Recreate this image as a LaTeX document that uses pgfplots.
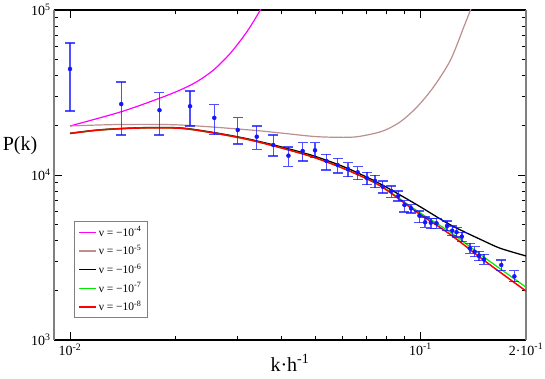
\documentclass[border=0pt]{standalone}
\usepackage{pgfplots}
\pgfplotsset{compat=1.18}
\usepackage{pgfplotstable}
\usepackage{fontspec}
\setmainfont{Liberation Serif}

\definecolor{rosybrown}{RGB}{188,143,143}
\definecolor{grmag}{RGB}{255,0,255}
\definecolor{grgreen}{RGB}{0,235,0}
\definecolor{grblue}{RGB}{20,20,255}

% measured spectrum: k, P, upper error, lower error
\pgfplotstableread{
k       P      ep     em
0.0100  43900  19200  19500
0.0140  26900  9700   9400
0.0180  24700  6800   7200
0.0220  26100  6200   6300
0.0258  22200  4500   4650
0.0301  18750  3500   3350
0.0341  17070  2730   2750
0.0380  15200  2270   2160
0.0420  13090  1690   1800
0.0461  13980  1720   1820
0.0500  14120  1580   1320
0.0539  12160  1190   1430
0.0580  11500  1120   1220
0.0621  10870  1010   1100
0.0662  10380  850    1010
0.0703  9590   790    850
0.0742  9200   750    820
0.0780  8490   710    710
0.0825  8000   580    670
0.0864  7460   540    510
0.0900  6580   410    610
0.0940  6280   320    380
0.0993  5670   380    530
0.1031  5170   380    350
0.1070  5140   330    410
0.1111  5100   350    350
0.1190  4910   340    310
0.1232  4600   300    300
0.1267  4500   300    300
0.1312  4230   270    280
0.1383  3590   260    240
0.1427  3430   250    230
0.1468  3230   220    210
0.1517  3080   220    210
0.1700  2850   200    220
0.1853  2430   200    170
}\measured

\begin{document}
\begin{tikzpicture}
\begin{axis}[
    width=472pt, height=330pt, scale only axis,
    xmode=log, ymode=log,
    xmin=0.009, xmax=0.2, ymin=1000, ymax=100000,
    xtick={0.01,0.1,0.2},
    xticklabels={10\textsuperscript{-2},10\textsuperscript{-1},2·10\textsuperscript{-1}},
    minor xtick={0.02,0.03,0.04,0.05,0.06,0.07,0.08,0.09},
    ytick={1000,10000,100000},
    yticklabels={10\textsuperscript{3},10\textsuperscript{4},10\textsuperscript{5}},
    minor ytick={2000,3000,4000,5000,6000,7000,8000,9000,20000,30000,40000,50000,60000,70000,80000,90000},
    tick align=inside,
    major tick length=8pt, minor tick length=4pt,
    tick style={black, line width=0.8pt},
    ticklabel style={font=\fontsize{14}{16}\selectfont},
    separate axis lines,
    x axis line style={black, line width=1.2pt},
    y axis line style={gray, line width=1.8pt},
    xlabel={k·h\textsuperscript{-1}},
    ylabel={P(k)},
    label style={font=\fontsize{20}{24}\selectfont},
    xlabel style={at={(axis description cs:0.5,-0.07)}, anchor=center},
    ylabel style={rotate=-90, at={(axis description cs:-0.072,0.59)}, anchor=center},
    legend style={at={(axis description cs:0.042,0.067)}, anchor=south west,
        draw=gray, line width=0.8pt, font=\fontsize{11.5}{13}\selectfont, row sep=3.5pt,
        inner xsep=4pt, inner ysep=3pt},
    legend cell align=left,
]
\addplot[grmag, line width=1.2pt, smooth] coordinates {
 (0.0100,19820) (0.0140,24180) (0.0180,29170) (0.02062,32740)
 (0.02301,36780) (0.02567,43290) (0.02866,54650) (0.03198,73880) (0.0349,100000) (0.03583,115000)};
\addlegendentry{ν = −10\textsuperscript{-4}}
\addplot[rosybrown, line width=1.2pt, smooth] coordinates {
 (0.0100,19820) (0.01389,20230) (0.02062,20100) (0.03268,18740) (0.04068,17890)
 (0.05069,17070) (0.0631,16930) (0.07043,17480) (0.07856,18560) (0.08768,21040)
 (0.0979,25940) (0.1091,34290) (0.1218,49780) (0.133,79200) (0.1389,100000) (0.1427,115000)};
\addlegendentry{ν = −10\textsuperscript{-5}}
\addplot[black, line width=1.3pt, smooth] coordinates {
 (0.0100,17900) (0.01218,18800) (0.01585,19350) (0.02062,19300) (0.02567,18100)
 (0.03198,16600) (0.03981,14850) (0.04957,13050) (0.06175,11000) (0.07686,8820)
 (0.0979,6580) (0.1218,4980) (0.1517,3980) (0.1693,3590) (0.2,3230)};
\addlegendentry{ν = −10\textsuperscript{-6}}
\addplot[grgreen, line width=1.2pt, smooth] coordinates {
 (0.0100,17840) (0.01218,18740) (0.01585,19270) (0.02062,19190) (0.02567,17970)
 (0.03198,16460) (0.03981,14640) (0.04957,12800) (0.06175,10720) (0.07686,8610)
 (0.0979,6050) (0.1218,4490) (0.1517,3180) (0.2,2090)};
\addlegendentry{ν = −10\textsuperscript{-7}}
\addplot[red, line width=1.5pt, smooth] coordinates {
 (0.0100,17840) (0.01218,18740) (0.01585,19270) (0.02062,19190) (0.02567,17970)
 (0.03198,16460) (0.03981,14640) (0.04957,12800) (0.06175,10720) (0.07686,8580)
 (0.0979,5930) (0.1218,4350) (0.1517,3040) (0.2,1980)};
\addlegendentry{ν = −10\textsuperscript{-8}}

\addplot[grblue, only marks, mark=*, mark size=2pt, forget plot,
    error bars/.cd, y dir=both, y explicit,
    error bar style={grblue, opacity=0.75, line width=1.4pt},
    error mark options={grblue, opacity=0.75, line width=1.4pt, mark size=5pt, rotate=90}]
  table[x=k, y=P, y error plus=ep, y error minus=em] {\measured};

\coordinate (sw) at (rel axis cs:0,0);
\coordinate (ne) at (rel axis cs:1,1);
\end{axis}
\pgfresetboundingbox
\path[use as bounding box] ([xshift=-54pt,yshift=-39pt]sw) rectangle ([xshift=19pt,yshift=10pt]ne);
\end{tikzpicture}
\end{document}
